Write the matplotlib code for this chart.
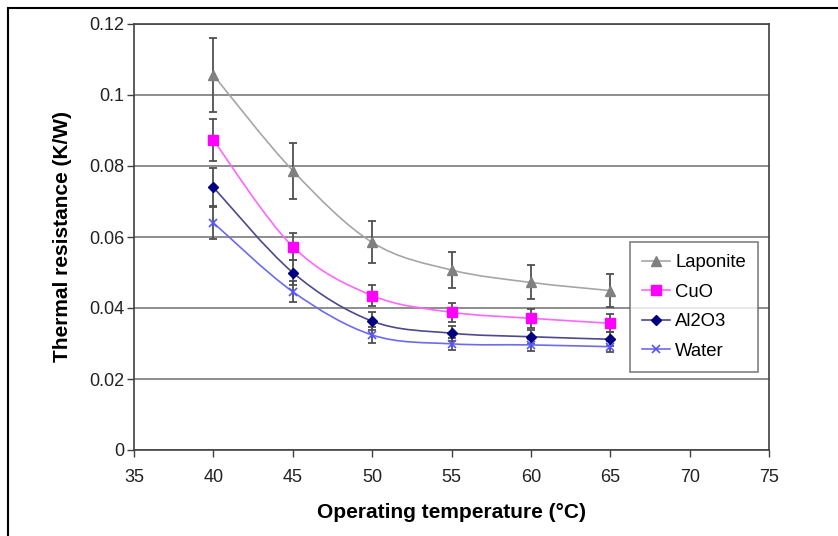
import matplotlib
matplotlib.use("Agg")
import matplotlib.pyplot as plt
import numpy as np
from matplotlib.path import Path
from matplotlib.patches import PathPatch, Rectangle
from matplotlib.lines import Line2D

plt.rcParams['font.family'] = ['Liberation Sans', 'DejaVu Sans']

temps = [40, 45, 50, 55, 60, 65]
laponite = [0.1056, 0.0787, 0.0585, 0.0507, 0.0472, 0.0449]
laponite_err = [0.0105, 0.0079, 0.0059, 0.0052, 0.0048, 0.0046]
cuo = [0.0873, 0.0573, 0.0435, 0.0388, 0.0371, 0.0357]
cuo_err = [0.0060, 0.0039, 0.0030, 0.0027, 0.0026, 0.0026]
al2o3 = [0.0740, 0.0500, 0.0363, 0.0329, 0.0319, 0.0312]
al2o3_err = [0.0053, 0.0036, 0.0025, 0.0021, 0.0020, 0.0020]
water = [0.0640, 0.0446, 0.0324, 0.0299, 0.0296, 0.0291]
water_err = [0.0045, 0.0030, 0.0022, 0.0017, 0.0016, 0.0015]

series = [
    ("Laponite", laponite, laponite_err, "#a6a6a6", "#808080", "^", 7),
    ("CuO", cuo, cuo_err, "#ff66ff", "#ff00ff", "s", 7),
    ("Al2O3", al2o3, al2o3_err, "#4a4a8c", "#000080", "D", 5.5),
    ("Water", water, water_err, "#6b6bf0", "#5555ff", "x", 6),
]

fig = plt.figure(figsize=(8.38, 5.36), dpi=100)
# outer frame
fig.patches.append(Rectangle((8/838, -0.1), 1.2, 1 - 8/536 + 0.1, transform=fig.transFigure,
                             fill=False, edgecolor="black", linewidth=1.5))
ax = fig.add_axes([134/838, 1 - 450/536, (769 - 134)/838, (450 - 24)/536])


def smooth_path(xs, ys):
    pts = np.column_stack([xs, ys]).astype(float)
    n = len(pts)
    verts = [pts[0]]
    codes = [Path.MOVETO]
    for i in range(n - 1):
        p0 = pts[i - 1] if i > 0 else pts[i]
        p1 = pts[i]
        p2 = pts[i + 1]
        p3 = pts[i + 2] if i + 2 < n else pts[i + 1]
        c1 = p1 + (p2 - p0) / 6.0
        c2 = p2 - (p3 - p1) / 6.0
        verts += [c1, c2, p2]
        codes += [Path.CURVE4] * 3
    return Path(verts, codes)


handles = []
for name, vals, errs, lc, mc, mk, ms in series:
    ax.errorbar(temps, vals, yerr=errs, fmt="none", ecolor="#505050",
                elinewidth=1.3, capsize=3, capthick=1.3, zorder=3)
    ax.add_patch(PathPatch(smooth_path(temps, vals), facecolor="none",
                           edgecolor=lc, linewidth=1.2, zorder=4))
    if mk == "x":
        ax.plot(temps, vals, linestyle="none", marker=mk, color=mc,
                markersize=ms, markeredgewidth=1.2, zorder=5)
    else:
        ax.plot(temps, vals, linestyle="none", marker=mk, color=mc,
                markeredgecolor=mc, markersize=ms, zorder=5)
    handles.append(Line2D([0], [0], color=lc, marker=mk, markerfacecolor=mc,
                          markeredgecolor=mc, markersize=ms,
                          markeredgewidth=1.2 if mk == "x" else 1.0, linewidth=1.2))

ax.set_xlim(35, 75)
ax.set_ylim(0, 0.12)
ax.set_xticks(np.arange(35, 76, 5))
ax.set_yticks([0, 0.02, 0.04, 0.06, 0.08, 0.1, 0.12])
ax.set_yticklabels(["0", "0.02", "0.04", "0.06", "0.08", "0.1", "0.12"])
ax.yaxis.grid(True, color="#7a7a7a", linewidth=1.2)
ax.set_axisbelow(True)
for s in ax.spines.values():
    s.set_color("#404040")
    s.set_linewidth(1.2)
ax.tick_params(axis="both", direction="out", length=5, width=1, color="#404040",
               labelsize=13, labelcolor="#222222")
ax.tick_params(axis="y", pad=2)
ax.tick_params(axis="x", pad=9)
ax.set_xlabel("Operating temperature (°C)", fontsize=15, fontweight="bold", labelpad=12)
ax.set_ylabel("Thermal resistance (K/W)", fontsize=15, fontweight="bold", labelpad=12)

leg = ax.legend(handles, [s[0] for s in series], loc="upper left",
                bbox_to_anchor=((630 - 134)/635, 1 - (242 - 24)/426),
                fontsize=13.3, frameon=True, fancybox=False, edgecolor="#606060",
                handlelength=1.5, labelspacing=0.68, borderpad=0.65, handletextpad=0.3,
                borderaxespad=0)
leg.get_frame().set_linewidth(1.2)

fig.savefig("out.png", dpi=100)
